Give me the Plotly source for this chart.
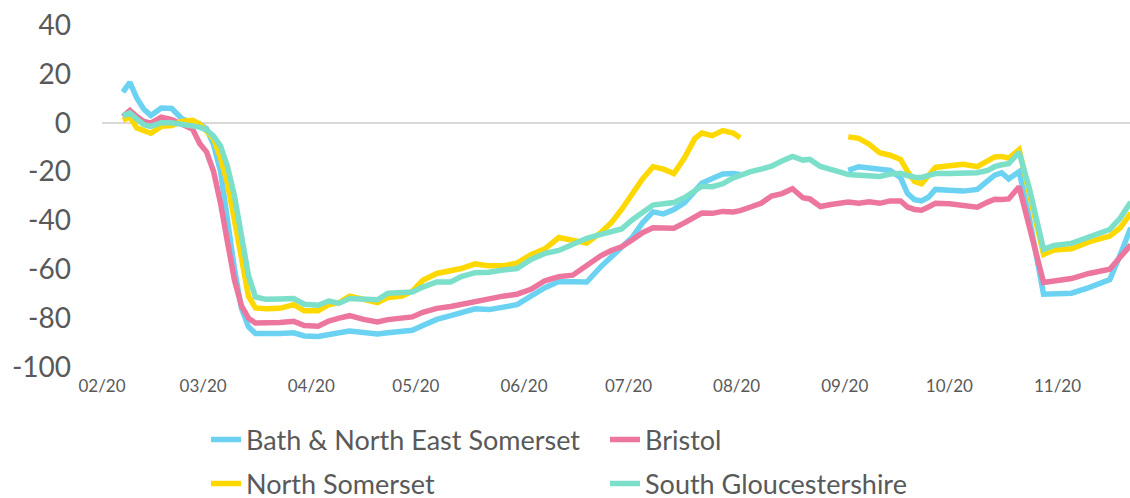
import plotly.graph_objects as go

dates = [
    "2020-02-07", "2020-02-09", "2020-02-11", "2020-02-13", "2020-02-15", "2020-02-18", "2020-02-21", "2020-02-24", "2020-02-27", "2020-02-29",
    "2020-03-02", "2020-03-04", "2020-03-06", "2020-03-08", "2020-03-10", "2020-03-12", "2020-03-14", "2020-03-16", "2020-03-19", "2020-03-23",
    "2020-03-27", "2020-03-30", "2020-04-03", "2020-04-06", "2020-04-09", "2020-04-12", "2020-04-16", "2020-04-20", "2020-04-23", "2020-04-27",
    "2020-04-30", "2020-05-03", "2020-05-07", "2020-05-11", "2020-05-14", "2020-05-18", "2020-05-22", "2020-05-26", "2020-05-30", "2020-06-03",
    "2020-06-07", "2020-06-11", "2020-06-15", "2020-06-19", "2020-06-23", "2020-06-26", "2020-06-29", "2020-07-02", "2020-07-05", "2020-07-08",
    "2020-07-11", "2020-07-14", "2020-07-17", "2020-07-20", "2020-07-22", "2020-07-25", "2020-07-28", "2020-07-31", "2020-08-02", "2020-08-05",
    "2020-08-08", "2020-08-11", "2020-08-14", "2020-08-17", "2020-08-20", "2020-08-22", "2020-08-25", "2020-08-28", "2020-08-31", "2020-09-02",
    "2020-09-05", "2020-09-08", "2020-09-11", "2020-09-14", "2020-09-17", "2020-09-19", "2020-09-21", "2020-09-23", "2020-09-25", "2020-09-27",
    "2020-10-01", "2020-10-05", "2020-10-09", "2020-10-12", "2020-10-14", "2020-10-16", "2020-10-18", "2020-10-21", "2020-10-24", "2020-10-28",
    "2020-10-31", "2020-11-05", "2020-11-10", "2020-11-14", "2020-11-16", "2020-11-19", "2020-11-22",
]

bath = [
    12.5, 16.5, 10, 5.5, 3, 6, 5.8, 1.5, 0, -0.5,
    -2.5, -9, -20, -42, -60, -76, -83.5, -86.3, -86.5, -86.3,
    -86, -87.3, -87.5, -86.5, -86, -85.3, -86, -86.5, -86, -85.5,
    -85, -83, -80.5, -79, -77.8, -76.2, -76.5, -75.7, -74.5, -71,
    -67.5, -65, -65, -65.2, -59, -55.2, -51.5, -47, -41, -36.5,
    -37.3, -35.5, -32.8, -28, -24.8, -22.8, -21, -20.8, -21.2, None,
    None, None, None, None, None, None, None, None, None, -19.5,
    -18, -18.5, -19, -19.5, -22.5, -29, -31.5, -32, -30.5, -27.3,
    -27.6, -28, -27.3, -24, -21.5, -20.5, -23, -20, -39.6, -70.2,
    -70.2, -69.8, -67.5, -65.5, -64.2, -54, -43,
]

bristol = [
    2.5, 5, 2.5, 0.5, -0.2, 2.3, 1.3, -0.5, -2.7, -8.5,
    -12, -20, -33, -49, -64.5, -75, -80, -82, -82, -81.8,
    -81.3, -83, -83.3, -81.2, -80, -79, -80.5, -81.6, -80.6, -80,
    -79.5, -77.6, -76, -75.2, -74.3, -73, -72.3, -71, -70.2, -68.2,
    -64.7, -63, -62.4, -58.5, -54.5, -52.3, -50.8, -48, -45, -43,
    -43, -43.2, -41, -38.9, -37, -37.1, -36.3, -36.5, -36, -34.5,
    -33, -30, -29, -27, -30.7, -31.2, -34.3, -33.5, -33, -32.5,
    -33, -32.4, -33, -32, -32, -34.5, -35.5, -35.8, -34.5, -33,
    -33.2, -33.7, -34.6, -32.5, -31.3, -31.4, -31.2, -26.2, -42.3, -65.4,
    -64.8, -63.8, -61.7, -60.6, -60, -55, -50,
]

north_somerset = [
    1, 2.3, -2.2, -3.3, -4.3, -1.5, -1.2, 0.6, 1, -0.5,
    -3.3, -6.5, -14.5, -25, -40, -57, -71, -75.8, -76.2, -76,
    -74.5, -77, -77, -74.5, -73.6, -71, -72.4, -73.6, -71.6, -71,
    -69, -64.5, -61.7, -60.7, -59.7, -57.8, -58.6, -58.6, -57.5, -54,
    -51.6, -47, -48, -49.3, -45, -41, -35.5, -29.5, -23, -18,
    -19, -20.8, -14.5, -6.5, -4.2, -5.3, -3.2, -4.2, -6.2, None,
    None, None, None, None, None, None, None, None, None, -5.8,
    -6.4, -8.8, -12.3, -13.3, -15, -20, -24, -25, -22, -18.3,
    -17.6, -17, -18, -15.5, -14, -13.8, -14.5, -11, -28.7, -53.9,
    -52.1, -51.6, -48.8, -47.5, -46.4, -43, -37,
]

south_gloucestershire = [
    2.8, 4, 1.5, -0.8, -1.5, 0, 0, -0.8, -1.4, -1.8,
    -3, -5.5, -9.5, -18, -30, -46, -62.5, -71.3, -72.3, -72.2,
    -72, -74.3, -74.7, -73, -73.9, -72, -72.5, -72.5, -69.8, -69.6,
    -69.3, -67.3, -65.2, -65.2, -63, -61.4, -61.2, -60.3, -59.7, -56,
    -53.5, -52.3, -49.6, -47.3, -45.7, -44.7, -43.5, -39.8, -36.5, -33.7,
    -33.2, -32.7, -30.7, -28, -26, -26.2, -25, -22.6, -21.4, -20,
    -19, -17.8, -15.7, -13.8, -15.3, -15, -17.9, -18.9, -20.3, -21.2,
    -21.6, -22, -22, -21, -20.7, -21.6, -22.3, -22.4, -21.5, -20.8,
    -20.8, -20.4, -20.5, -19.5, -18, -17.2, -16.8, -12.1, -27.3, -51.8,
    -50.2, -49.4, -47, -44.8, -43.7, -39, -32.5,
]

series_names = ["Bath & North East Somerset", "Bristol", "North Somerset", "South Gloucestershire"]
series_values = [bath, bristol, north_somerset, south_gloucestershire]
series_colors = ["#6BD2F2", "#EC769D", "#FFD800", "#7BDFCA"]
series_legends = ["legend", "legend", "legend2", "legend2"]

y_ticks = [-100, -80, -60, -40, -20, 0, 20, 40]
y_tick_labels = ["-100", "-80", "-60", "-40", "-20", "0", "20", "40"]

TEXT = "#595959"

FIG_W, FIG_H = 1130, 498
PLOT_L, PLOT_T, PLOT_B = 102, 25, 367
PLOT_W = FIG_W - PLOT_L
PLOT_H = PLOT_B - PLOT_T

fig = go.Figure()
for name, vals, col, lg in zip(series_names, series_values, series_colors, series_legends):
    fig.add_trace(go.Scatter(
        x=dates, y=vals, name=name, mode="lines",
        line=dict(color=col, width=5.5),
        connectgaps=False, legend=lg,
    ))

legend_common = dict(
    orientation="h", xanchor="left", yanchor="middle",
    font=dict(family="Lato, sans-serif", size=27, color=TEXT),
    entrywidth=354, entrywidthmode="pixels",
    bgcolor="rgba(0,0,0,0)", borderwidth=0,
    itemclick=False, itemdoubleclick=False,
)

fig.update_layout(
    width=FIG_W, height=FIG_H,
    margin=dict(l=PLOT_L, r=0, t=PLOT_T, b=FIG_H - PLOT_B, autoexpand=False),
    paper_bgcolor="white", plot_bgcolor="white",
    font=dict(family="Lato, sans-serif", color=TEXT),
    showlegend=True,
    legend=dict(x=(206 - PLOT_L) / PLOT_W, y=(PLOT_B - 440) / PLOT_H, **legend_common),
    legend2=dict(x=(206 - PLOT_L) / PLOT_W, y=(PLOT_B - 484) / PLOT_H, **legend_common),
    xaxis=dict(
        type="date",
        range=["2020-02-01", "2020-11-21 19:00"],
        tick0="2020-02-01", dtick="M1", tickformat="%m/%y",
        showgrid=False, zeroline=False, showline=False,
        ticks="", ticklabelstandoff=7, ticklabeloverflow="allow",
        tickfont=dict(family="Lato, sans-serif", size=17, color=TEXT),
    ),
    yaxis=dict(
        range=[-100, 40],
        tickvals=y_ticks, ticktext=y_tick_labels,
        showgrid=False, showline=False,
        zeroline=True, zerolinecolor="#D9D9D9", zerolinewidth=2,
        ticks="", ticklabelstandoff=30, ticklabeloverflow="allow",
        tickfont=dict(family="Lato, sans-serif", size=28, color=TEXT),
    ),
)

# remove the browser's default 8px page margin so the figure fills the window
page_fix = (
    "document.body.style.margin='0';"
    "document.body.style.overflow='hidden';"
    "document.documentElement.style.overflow='hidden';"
)
fig.write_html("out.html", post_script=page_fix, config={"displayModeBar": False})
